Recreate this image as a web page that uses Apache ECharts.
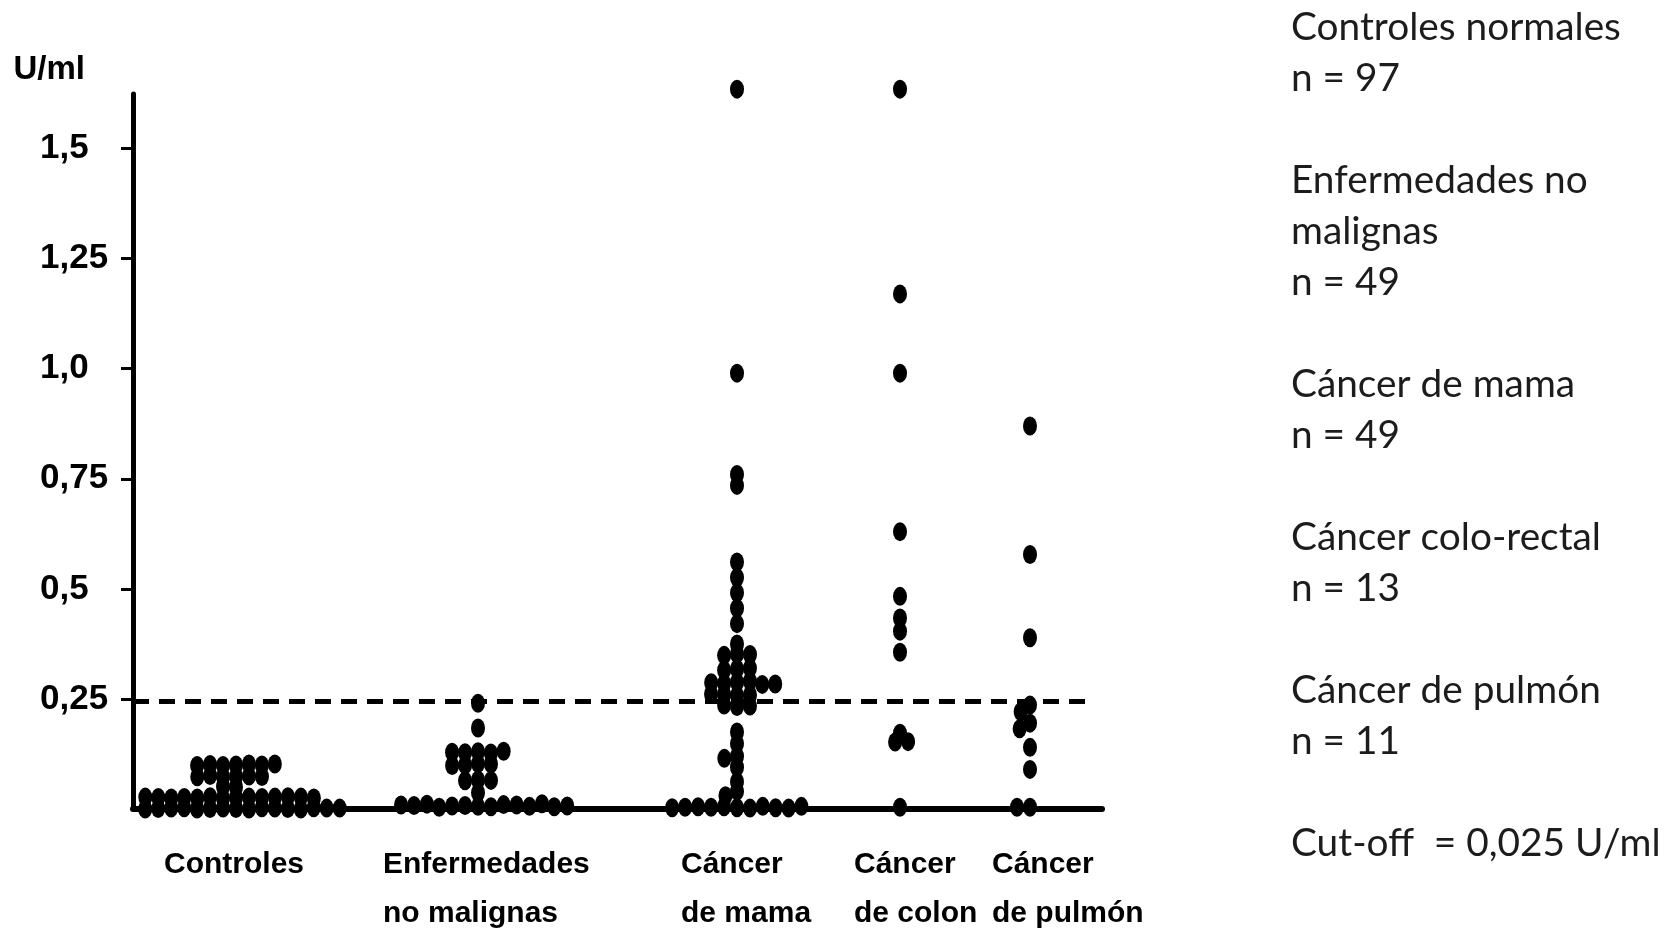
<!DOCTYPE html>
<html><head><meta charset="utf-8">
<script src="https://cdn.jsdelivr.net/npm/echarts@6/dist/echarts.min.js"></script>
<style>html,body{margin:0;padding:0;background:#fff}#c{width:1669px;height:938px}</style>
</head><body><div id="c"></div>
<script>
// ---------- data (U/ml) ----------
const categories = ['Controles', 'Enfermedades\nno malignas', 'Cáncer\nde mama', 'Cáncer\nde colon', 'Cáncer\nde pulmón'];

const controles = [
  0.100, 0.099, 0.102, 0.100, 0.101, 0.099, 0.102,
  0.074, 0.073, 0.075, 0.076, 0.074, 0.073,
  0.050, 0.051,
  0.026, 0.025, 0.027, 0.028, 0.026, 0.025, 0.027, 0.026, 0.028, 0.025, 0.027, 0.026, 0.025, 0.027,
  0.001, 0.002, 0.000, 0.003, 0.001, 0.002, 0.000, 0.003, 0.001, 0.002, 0.000, 0.003, 0.001, 0.002, 0.000, 0.002
];
const enfermedades = [
  0.240, 0.184,
  0.130, 0.128, 0.127, 0.131, 0.129,
  0.103, 0.100, 0.102, 0.099,
  0.066, 0.064, 0.065,
  0.037,
  0.006, 0.008, 0.005, 0.010, 0.007, 0.009, 0.004, 0.011, 0.006, 0.008, 0.012, 0.005, 0.009, 0.007
];
const mama = [
  1.635, 0.990, 0.760, 0.735,
  0.561, 0.526, 0.491, 0.456, 0.421,
  0.375,
  0.352, 0.349, 0.351,
  0.318, 0.315, 0.320,
  0.288, 0.285, 0.290, 0.283, 0.287, 0.284,
  0.258, 0.260, 0.259, 0.261,
  0.233, 0.236, 0.234,
  0.175, 0.148, 0.120, 0.115, 0.095,
  0.062, 0.040, 0.030,
  0.003, 0.005, 0.002, 0.004, 0.006, 0.003, 0.005, 0.002, 0.004, 0.006, 0.003
];
const colon = [1.635, 1.170, 0.990, 0.630, 0.483, 0.434, 0.404, 0.356, 0.172, 0.152, 0.153, 0.004];
const pulmon = [0.870, 0.578, 0.389, 0.236, 0.221, 0.195, 0.182, 0.140, 0.090, 0.004, 0.004];

const yTicks = [0.25, 0.5, 0.75, 1.0, 1.25, 1.5];
const yTickLabels = ['0,25', '0,5', '0,75', '1,0', '1,25', '1,5'];
const cutOff = 0.245;
const legendLines = ['Controles normales', 'n = 97', '', 'Enfermedades no', 'malignas', 'n = 49', '',
  'Cáncer de mama', 'n = 49', '', 'Cáncer colo-rectal', 'n = 13', '', 'Cáncer de pulmón', 'n = 11', '',
  'Cut-off  = 0,025 U/ml'];

// ---------- layout (positions in x-axis units = pixels from the y axis) ----------
const groups = [controles, enfermedades, mama, colon, pulmon];
const catCenter = [103, 345, 604, 767, 897];
const labelAnchor = [31, 250, 548, 721, 859];
const cutLineEnd = 953;
const X_MAX = 969, Y_MAX = 1.624;
const DOT_W = 13, DOT_H = 9.5;     // collision ellipse for the swarm layout (px)
const BOLD = "'Liberation Sans', Arial, sans-serif";

const chart = echarts.init(document.getElementById('c'), null, { renderer: 'canvas' });

const base = {
  animation: false,
  backgroundColor: '#fff',
  grid: { left: 133, right: 567, top: 94, bottom: 120, containLabel: false },
  xAxis: {
    type: 'value', min: 0, max: X_MAX,
    axisLine: { show: true, lineStyle: { color: '#000', width: 6 } },
    axisTick: { show: false },
    splitLine: { show: false },
    axisLabel: {
      customValues: labelAnchor,
      formatter: v => { const i = labelAnchor.findIndex(a => Math.abs(a - v) < 1e-6); return i >= 0 ? categories[i] : ''; },
      align: 'left', margin: 31, lineHeight: 49,
      fontFamily: BOLD, fontWeight: 'bold', fontSize: 30, color: '#000'
    }
  },
  yAxis: {
    type: 'value', min: 0, max: Y_MAX,
    name: 'U/ml', nameLocation: 'end', nameGap: 8,
    nameTextStyle: { fontFamily: BOLD, fontWeight: 'bold', fontSize: 33, color: '#000', align: 'right', padding: [0, 48, 0, 0] },
    axisLine: { show: true, lineStyle: { color: '#000', width: 5 } },
    axisTick: { show: true, customValues: yTicks, length: 12, lineStyle: { color: '#000', width: 3 } },
    splitLine: { show: false },
    axisLabel: {
      customValues: yTicks,
      formatter: v => { const i = yTicks.findIndex(t => Math.abs(t - v) < 1e-6); return i >= 0 ? yTickLabels[i] : ''; },
      align: 'left', margin: 93, padding: [4, 0, 0, 0],
      fontFamily: BOLD, fontWeight: 'bold', fontSize: 35, color: '#000'
    }
  },
  graphic: [{
    type: 'text', left: 1291, top: 2,
    style: {
      text: legendLines.join('\n'),
      font: "38.8px Lato, 'Open Sans', sans-serif",
      lineHeight: 51, fill: '#1c1c1c'
    }
  }],
  series: []
};
chart.setOption(base);

const p0 = chart.convertToPixel({ gridIndex: 0 }, [0, 0]);
const p1 = chart.convertToPixel({ gridIndex: 0 }, [1, 1]);
const sx = p1[0] - p0[0], sy = p0[1] - p1[1];

function swarm(values, cx) {
  const placed = [], out = [];
  values.forEach(v => {
    const y = v * sy;
    const near = placed.filter(q => Math.abs(q.y - y) < DOT_H);
    const cands = [0];
    near.forEach(q => {
      const r = (q.y - y) / DOT_H;
      const d = DOT_W * Math.sqrt(Math.max(0, 1 - r * r));
      cands.push(q.x + d, q.x - d);
    });
    cands.sort((a, b) => Math.abs(a) - Math.abs(b) || a - b);
    const x = cands.find(c => near.every(q => {
      const dx = (c - q.x) / DOT_W, dy = (y - q.y) / DOT_H;
      return dx * dx + dy * dy >= 0.999;
    }));
    placed.push({ x, y });
    out.push([cx + x / sx, v]);
  });
  return out;
}

const series = groups.map((g, i) => ({
  name: categories[i].replace('\n', ' '),
  type: 'scatter',
  clip: false,
  symbol: 'circle',
  symbolSize: [14, 19],
  itemStyle: { color: '#000', opacity: 1 },
  emphasis: { disabled: true },
  data: swarm(g, catCenter[i])
}));
series[0].markLine = {
  silent: true, symbol: 'none', animation: false,
  label: { show: false },
  lineStyle: { color: '#000', width: 5, type: [16, 10], opacity: 1 },
  data: [[{ coord: [0, cutOff] }, { coord: [cutLineEnd, cutOff] }]]
};
chart.setOption({ series });
</script>
</body></html>
